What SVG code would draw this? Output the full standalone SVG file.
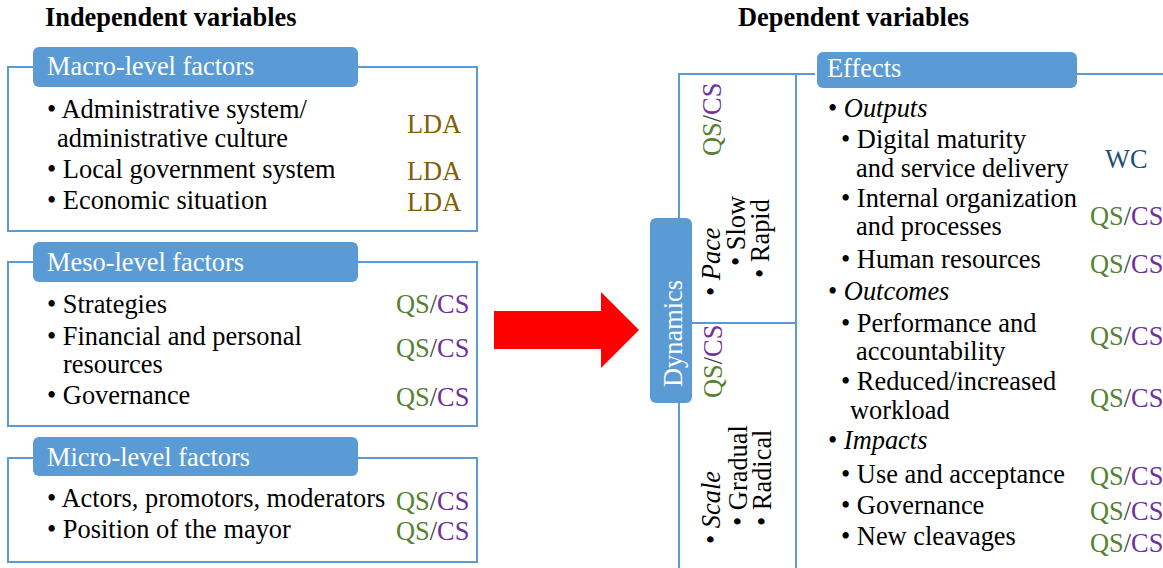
<svg xmlns="http://www.w3.org/2000/svg" width="1163" height="568" viewBox="0 0 1163 568" font-family="'Liberation Serif', 'Times New Roman', serif">
  <style>
    text { font-family: 'Liberation Serif', 'Times New Roman', serif; font-size: 26.4px; fill: #000; }
    .title { font-weight: bold; }
    .hdr { fill: #fff; }
    .frame { fill: none; stroke: #5B9BD5; stroke-width: 2; }
    .hbox { fill: #5B9BD5; }
    .lda { fill: #7F6000; }
    .qs { fill: #548235; }
    .cs { fill: #7030A0; }
    .sl { fill: #404040; }
    .wc { fill: #1F4E79; }
    .it { font-style: italic; }
  </style>

  <!-- column titles -->
  <text class="title" x="45" y="26">Independent variables</text>
  <text class="title" x="738" y="26">Dependent variables</text>

  <!-- Macro-level -->
  <g id="macro">
    <path class="frame" d="M33,67 H8 V231 H477 V67 H358"/>
    <rect class="hbox" x="33" y="47" width="325" height="40" rx="6"/>
    <text class="hdr" x="47" y="75">Macro-level factors</text>
    <text x="47" y="118">• Administrative system/</text>
    <text x="57" y="147">administrative culture</text>
    <text x="47" y="178">• Local government system</text>
    <text x="47" y="209">• Economic situation</text>
    <text class="lda" x="407" y="133">LDA</text>
    <text class="lda" x="407" y="180">LDA</text>
    <text class="lda" x="407" y="211">LDA</text>
  </g>

  <!-- Meso-level -->
  <g id="meso">
    <path class="frame" d="M33,262 H8 V426 H477 V262 H358"/>
    <rect class="hbox" x="33" y="242" width="325" height="40" rx="6"/>
    <text class="hdr" x="47" y="271">Meso-level factors</text>
    <text x="47" y="313">• Strategies</text>
    <text x="47" y="345">• Financial and personal</text>
    <text x="63" y="373">resources</text>
    <text x="47" y="404">• Governance</text>
    <text x="396" y="313"><tspan class="qs">QS</tspan><tspan class="sl">/</tspan><tspan class="cs">CS</tspan></text>
    <text x="396" y="357"><tspan class="qs">QS</tspan><tspan class="sl">/</tspan><tspan class="cs">CS</tspan></text>
    <text x="396" y="406"><tspan class="qs">QS</tspan><tspan class="sl">/</tspan><tspan class="cs">CS</tspan></text>
  </g>

  <!-- Micro-level -->
  <g id="micro">
    <path class="frame" d="M33,458 H8 V562 H477 V458 H358"/>
    <rect class="hbox" x="33" y="437" width="325" height="39" rx="6"/>
    <text class="hdr" x="47" y="466">Micro-level factors</text>
    <text x="47" y="507">• Actors, promotors, moderators</text>
    <text x="47" y="538">• Position of the mayor</text>
    <text x="396" y="510"><tspan class="qs">QS</tspan><tspan class="sl">/</tspan><tspan class="cs">CS</tspan></text>
    <text x="396" y="540"><tspan class="qs">QS</tspan><tspan class="sl">/</tspan><tspan class="cs">CS</tspan></text>
  </g>

  <!-- connectors -->
  <g id="connectors">
    <polygon points="494,311 601,311 601,292 639,330 601,368 601,349 494,349" fill="#FF0000"/>
  </g>

  <!-- Dynamics -->
  <g id="dynamics">
    <path class="frame" d="M679,218 V74 H815 M679,403 V570 M796,74 V570 M692,323 H796"/>
    <rect class="hbox" x="650" y="218" width="42" height="185" rx="6"/>
    <text class="hdr" transform="translate(682,387) rotate(-90)">Dynamics</text>
    <!-- pace -->
    <text transform="translate(721,156) rotate(-90)"><tspan class="qs">QS</tspan><tspan class="sl">/</tspan><tspan class="cs">CS</tspan></text>
    <text transform="translate(720,296) rotate(-90)">• <tspan class="it">Pace</tspan></text>
    <text transform="translate(745,266) rotate(-90)">• Slow</text>
    <text transform="translate(769,278) rotate(-90)">• Rapid</text>
    <!-- scale -->
    <text transform="translate(722,398) rotate(-90)"><tspan class="qs">QS</tspan><tspan class="sl">/</tspan><tspan class="cs">CS</tspan></text>
    <text transform="translate(720,544) rotate(-90)">• <tspan class="it">Scale</tspan></text>
    <text transform="translate(747,526) rotate(-90)">• Gradual</text>
    <text transform="translate(771,526) rotate(-90)">• Radical</text>
  </g>

  <!-- Effects -->
  <g id="effects">
    <path class="frame" d="M1077,74 H1165"/>
    <rect class="hbox" x="817" y="52" width="260" height="36" rx="6"/>
    <text class="hdr" x="827" y="77">Effects</text>
    <text x="828" y="117">• <tspan class="it">Outputs</tspan></text>
    <text x="841" y="148">• Digital maturity</text>
    <text x="856" y="177">and service delivery</text>
    <text class="wc" x="1105" y="168">WC</text>
    <text x="841" y="207">• Internal organization</text>
    <text x="856" y="235">and processes</text>
    <text x="1090" y="225"><tspan class="qs">QS</tspan><tspan class="sl">/</tspan><tspan class="cs">CS</tspan></text>
    <text x="841" y="268">• Human resources</text>
    <text x="1090" y="273"><tspan class="qs">QS</tspan><tspan class="sl">/</tspan><tspan class="cs">CS</tspan></text>
    <text x="828" y="300">• <tspan class="it">Outcomes</tspan></text>
    <text x="841" y="332">• Performance and</text>
    <text x="856" y="360">accountability</text>
    <text x="1090" y="345"><tspan class="qs">QS</tspan><tspan class="sl">/</tspan><tspan class="cs">CS</tspan></text>
    <text x="841" y="390">• Reduced/increased</text>
    <text x="850" y="419">workload</text>
    <text x="1090" y="407"><tspan class="qs">QS</tspan><tspan class="sl">/</tspan><tspan class="cs">CS</tspan></text>
    <text x="828" y="449">• <tspan class="it">Impacts</tspan></text>
    <text x="841" y="483">• Use and acceptance</text>
    <text x="1090" y="485"><tspan class="qs">QS</tspan><tspan class="sl">/</tspan><tspan class="cs">CS</tspan></text>
    <text x="841" y="514">• Governance</text>
    <text x="1090" y="520"><tspan class="qs">QS</tspan><tspan class="sl">/</tspan><tspan class="cs">CS</tspan></text>
    <text x="841" y="545">• New cleavages</text>
    <text x="1090" y="552"><tspan class="qs">QS</tspan><tspan class="sl">/</tspan><tspan class="cs">CS</tspan></text>
  </g>
</svg>
